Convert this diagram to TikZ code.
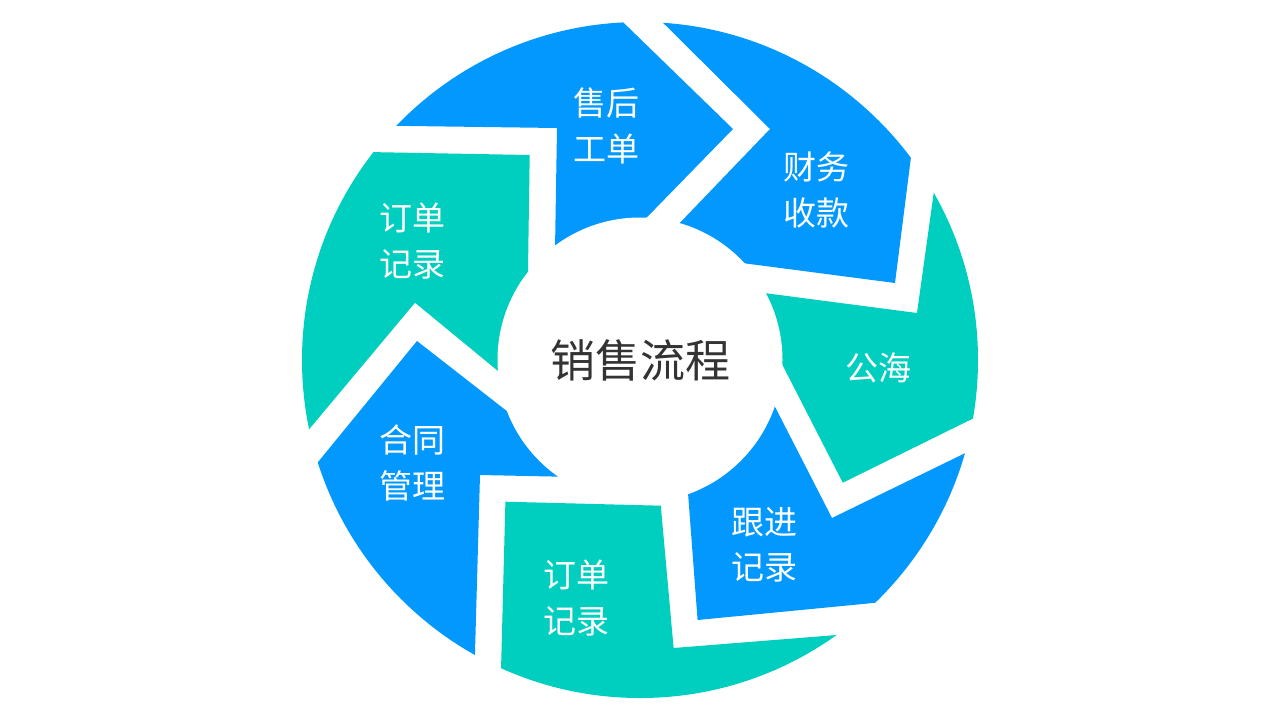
\documentclass[tikz,border=0pt]{standalone}
\usepackage{fontspec}
\newfontfamily\cjk{Noto Sans CJK SC}
\definecolor{segblue}{RGB}{3,152,254}
\definecolor{segteal}{RGB}{0,206,190}
\definecolor{centertext}{RGB}{51,51,51}
\tikzset{
  lab/.style={text=white, font=\cjk\fontsize{33}{45.5}\selectfont, align=center, inner sep=0pt},
  ctr/.style={text=centertext, font=\cjk\fontsize{45}{50}\selectfont, inner sep=0pt},
}
\begin{document}
\begin{tikzpicture}[x=1pt, y=-1pt]
\useasboundingbox (0,0) rectangle (1280,720);
\fill[white] (0,0) rectangle (1280,720);
\coordinate (O) at (640,360);
\begin{scope}
\clip (O) circle (338pt);
% A: 售后工单
\fill[segblue] (335,125) -- (557,128) -- (554.5,280) -- (O) -- (616,249) -- (733,129) -- (593,-7) -- (400,20) -- cycle;
% B: 财务收款
\fill[segblue] (632,-8) -- (770,129) -- (649,255) -- (O) -- (704,258) -- (895,283) -- (919,94) -- (800,-20) -- cycle;
% C: 公海
\fill[segteal] (942.5,130) -- (917,313) -- (726,288) -- (O) -- (756.7,314.7) -- (842.8,482.7) -- (1041,385) -- (1100,250) -- cycle;
% D: 跟进记录
\fill[segblue] (1027,423) -- (832,518) -- (754.6,367) -- (O) -- (685,453) -- (697.6,620) -- (935,597) -- (1000,560) -- cycle;
% E: 订单记录 (bottom)
\fill[segteal] (887,631) -- (673.6,648) -- (660.8,505.7) -- (505.4,501.7) -- (500,709) -- (640,760) -- cycle;
% F: 合同管理
\fill[segblue] (473.5,705.7) -- (480,475) -- (589.7,477.3) -- (O) -- (540.6,437.4) -- (417,341) -- (287,500) -- (380,720) -- cycle;
% G: 订单记录 (left)
\fill[segteal] (277.8,466.7) -- (415,302.7) -- (523.9,392.3) -- (O) -- (527.5,304) -- (529.7,155) -- (312.5,151) -- (240,300) -- cycle;
\end{scope}
\fill[white] (O) circle (142.5pt);
\node[ctr] (center) at (640,360) {销售流程};
\node[lab] (la) at (606,126) {售后\\工单};
\node[lab] (lb) at (816,190) {财务\\收款};
\node[lab] (lc) at (878,368) {公海};
\node[lab] (ld) at (764,545) {跟进\\记录};
\node[lab] (le) at (576,598) {订单\\记录};
\node[lab] (lf) at (412,463) {合同\\管理};
\node[lab] (lg) at (412,241) {订单\\记录};
\end{tikzpicture}
\end{document}
